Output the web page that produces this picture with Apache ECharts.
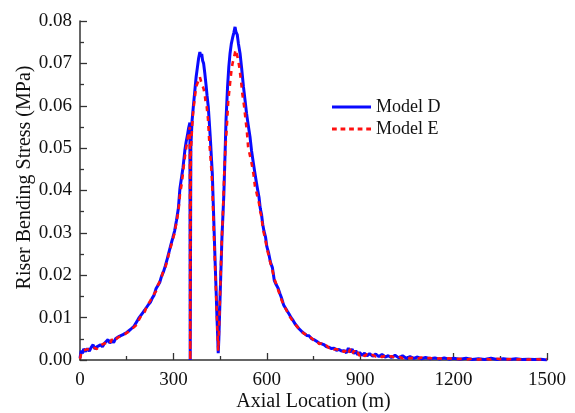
<!DOCTYPE html>
<html>
<head>
<meta charset="utf-8">
<script src="https://cdn.jsdelivr.net/npm/echarts@6/dist/echarts.min.js"></script>
<style>
html,body{margin:0;padding:0;background:#fff;}
#c{width:575px;height:413px;}
</style>
</head>
<body>
<div id="c"></div>
<script>
// Axial location (m) and bending stress (MPa)
var xD = [0,4,8,12,18,24,30,36,42,48,54,60,66,72,78,84,90,96,102,108,114,120,126,132,138,144,150,156,162,168,174,180,186,190,196,202,208,214,220,226,232,238,244,250,256,262,268,274,280,286,292,298,304,310,316,321,326,331,337,341,345,349,353,354,356,360,364,369,373,377,381,385,388,391,394,397,401,405,408,412,415,419,422,425,428,431,434,437,440,442,444,446,448,450,453,456,459,462,466,469,474,478,482,486,490,494,498,501,505,509,514,519,525,530,535,540,546,551,557,562,567,571,575,579,583,587,591,596,600,606,612,618,624,630,636,642,648,654,660,666,672,678,684,690,696,702,708,714,720,728,736,744,752,760,768,776,784,792,800,808,816,824,832,840,848,856,862,868,874,880,886,892,898,906,914,922,930,940,950,960,970,980,990,1000,1012,1024,1036,1048,1060,1072,1084,1096,1110,1125,1140,1155,1170,1185,1200,1220,1240,1260,1280,1300,1320,1340,1360,1380,1400,1420,1440,1460,1480,1500];
var yD = [0.0005,0.0022,0.0016,0.0026,0.0020,0.0027,0.0021,0.0030,0.0036,0.0026,0.0031,0.0027,0.0036,0.0031,0.0039,0.0035,0.0048,0.0040,0.0046,0.0041,0.0050,0.0048,0.0056,0.0053,0.0060,0.0057,0.0065,0.0064,0.0072,0.0070,0.0080,0.0078,0.0095,0.0100,0.0098,0.0112,0.0118,0.0122,0.0131,0.0136,0.0146,0.0153,0.0168,0.0172,0.0183,0.0198,0.0208,0.0222,0.0238,0.0255,0.0272,0.0288,0.0305,0.0330,0.0358,0.0405,0.0430,0.0455,0.0496,0.0515,0.0530,0.0548,0.0560,0.0000,0.0505,0.0565,0.0598,0.0637,0.0668,0.0690,0.0712,0.0727,0.0716,0.0722,0.0706,0.0700,0.0676,0.0648,0.0625,0.0598,0.0565,0.0519,0.0478,0.0440,0.0370,0.0300,0.0232,0.0168,0.0100,0.0060,0.0016,0.0050,0.0100,0.0150,0.0220,0.0290,0.0340,0.0390,0.0488,0.0566,0.0645,0.0692,0.0724,0.0746,0.0760,0.0772,0.0786,0.0774,0.0768,0.0746,0.0724,0.0690,0.0645,0.0614,0.0582,0.0556,0.0527,0.0494,0.0464,0.0440,0.0417,0.0400,0.0384,0.0358,0.0344,0.0320,0.0304,0.0290,0.0268,0.0252,0.0230,0.0218,0.0188,0.0178,0.0170,0.0157,0.0145,0.0130,0.0128,0.0115,0.0108,0.0100,0.0094,0.0086,0.0084,0.0075,0.0074,0.0066,0.0064,0.0058,0.0057,0.0050,0.0048,0.0044,0.0040,0.0038,0.0036,0.0031,0.0030,0.0027,0.0028,0.0023,0.0025,0.0021,0.0022,0.0017,0.0028,0.0018,0.0026,0.0015,0.0022,0.0012,0.0018,0.0011,0.0016,0.0010,0.0015,0.0009,0.0014,0.0008,0.0013,0.0007,0.0010,0.0006,0.0011,0.0005,0.0010,0.0004,0.0008,0.0004,0.0007,0.0003,0.0006,0.0003,0.0005,0.0002,0.0005,0.0002,0.0004,0.0002,0.0004,0.0001,0.0003,0.0001,0.0004,0.0001,0.0003,0.0001,0.0003,0.0001,0.0002,0.0001,0.0002,0.0000];
var xE = [0,4,8,12,18,24,30,36,42,48,54,60,66,72,78,84,90,96,102,108,114,120,126,132,138,144,150,156,162,168,174,180,186,190,196,202,208,214,220,226,232,238,244,250,256,262,268,274,280,286,292,298,304,310,316,321,327,332,337,341,345,349,353,354,356,360,364,369,373,377,381,385,389,393,397,401,404,407,411,415,419,423,426,429,432,435,438,441,443,444,446,448,450,453,456,459,463,467,471,476,482,486,490,494,497,500,503,507,512,517,522,527,532,536,540,546,551,557,562,567,571,575,579,583,587,591,596,600,606,612,618,624,630,636,642,648,654,660,666,672,678,684,690,696,702,708,714,720,728,736,744,752,760,768,776,784,792,800,808,816,824,832,840,848,856,862,868,874,880,886,892,898,906,914,922,930,940,950,960,970,980,990,1000,1012,1024,1036,1048,1060,1072,1084,1096,1110,1125,1140,1155,1170,1185,1200,1220,1240,1260,1280,1300,1320,1340,1360,1380,1400,1420,1440,1460,1480,1500];
var yE = [0.0003,0.0016,0.0022,0.0018,0.0024,0.0020,0.0026,0.0024,0.0030,0.0033,0.0026,0.0032,0.0029,0.0037,0.0033,0.0040,0.0044,0.0038,0.0049,0.0044,0.0047,0.0052,0.0050,0.0057,0.0055,0.0061,0.0060,0.0067,0.0066,0.0074,0.0076,0.0082,0.0090,0.0096,0.0104,0.0108,0.0114,0.0126,0.0128,0.0140,0.0142,0.0156,0.0162,0.0176,0.0180,0.0195,0.0212,0.0218,0.0234,0.0252,0.0268,0.0284,0.0300,0.0326,0.0350,0.0390,0.0417,0.0450,0.0480,0.0500,0.0518,0.0535,0.0550,0.0000,0.0490,0.0550,0.0590,0.0620,0.0645,0.0648,0.0660,0.0668,0.0657,0.0655,0.0640,0.0625,0.0605,0.0598,0.0570,0.0519,0.0480,0.0440,0.0385,0.0320,0.0260,0.0200,0.0140,0.0080,0.0040,0.0022,0.0060,0.0110,0.0160,0.0230,0.0295,0.0345,0.0433,0.0500,0.0543,0.0610,0.0653,0.0680,0.0700,0.0712,0.0722,0.0732,0.0724,0.0712,0.0690,0.0660,0.0625,0.0600,0.0566,0.0540,0.0503,0.0482,0.0465,0.0440,0.0410,0.0395,0.0382,0.0370,0.0350,0.0338,0.0312,0.0298,0.0282,0.0264,0.0246,0.0228,0.0212,0.0192,0.0180,0.0166,0.0154,0.0140,0.0132,0.0122,0.0118,0.0104,0.0098,0.0090,0.0088,0.0080,0.0077,0.0070,0.0068,0.0062,0.0060,0.0053,0.0052,0.0045,0.0046,0.0038,0.0039,0.0033,0.0034,0.0028,0.0030,0.0025,0.0026,0.0021,0.0024,0.0019,0.0024,0.0016,0.0026,0.0014,0.0022,0.0013,0.0018,0.0010,0.0016,0.0009,0.0014,0.0010,0.0012,0.0008,0.0011,0.0007,0.0010,0.0006,0.0009,0.0005,0.0008,0.0004,0.0007,0.0004,0.0006,0.0003,0.0006,0.0003,0.0005,0.0002,0.0004,0.0002,0.0004,0.0002,0.0003,0.0001,0.0003,0.0001,0.0003,0.0001,0.0003,0.0001,0.0002,0.0001,0.0002,0.0001,0.0002,0.0001,0.0002,0.0001,0.0000];
var seriesNames = ['Model D','Model E'];
var xTicks = [0,300,600,900,1200,1500];

function pairs(xs, ys){ return xs.map(function(x,i){ return [x, ys[i]]; }); }

var FONT = 'Liberation Serif';
var chart = echarts.init(document.getElementById('c'), null, {renderer:'canvas'});
chart.setOption({
  animation:false,
  backgroundColor:'#ffffff',
  grid:{left:80,right:28,top:21,bottom:53,containLabel:false,outerBoundsMode:'none'},
  legend:{
    orient:'vertical', left:327, top:93, itemWidth:39, itemHeight:14, itemGap:4,
    textStyle:{fontFamily:FONT,fontSize:18,color:'#111'},
    data:[
      {name:seriesNames[0],icon:'path://M0,0L41,0L41,3L0,3Z'},
      {name:seriesNames[1],icon:'path://M0,0h5v3h-5zM9,0h5v3h-5zM18,0h5v3h-5zM27,0h5v3h-5zM36,0h5v3h-5z'}
    ]
  },
  xAxis:{
    type:'value', min:xTicks[0], max:xTicks[xTicks.length-1], interval:300,
    name:'Axial Location (m)', nameLocation:'middle', nameGap:32, nameMoveOverlap:false,
    nameTextStyle:{fontFamily:FONT,fontSize:20,color:'#111'},
    axisLine:{show:true,lineStyle:{color:'#333',width:1.5}},
    axisTick:{show:true,inside:true,length:7,lineStyle:{color:'#333',width:1.3}},
    minorTick:{show:true,splitNumber:2,length:4,lineStyle:{color:'#333',width:1.3}},
    splitLine:{show:false},
    axisLabel:{fontFamily:FONT,fontSize:19,color:'#111',margin:11,formatter:function(v){return String(v);}}
  },
  yAxis:{
    type:'value', min:0, max:0.08, interval:0.01,
    name:'Riser Bending Stress (MPa)', nameLocation:'middle', nameGap:45, nameMoveOverlap:false,
    nameTextStyle:{fontFamily:FONT,fontSize:20,color:'#111',padding:[0,0,0,26]},
    axisLine:{show:true,lineStyle:{color:'#333',width:1.5}},
    axisTick:{show:true,inside:true,length:7,lineStyle:{color:'#333',width:1.3}},
    minorTick:{show:true,splitNumber:2,length:4,lineStyle:{color:'#333',width:1.3}},
    splitLine:{show:false},
    axisLabel:{fontFamily:FONT,fontSize:19,color:'#111',margin:8,formatter:function(v){return v.toFixed(2);}}
  },
  series:[
    {name:seriesNames[0],type:'line',data:pairs(xD,yD),showSymbol:false,symbol:'none',
     lineStyle:{color:'#0a0aff',width:3},itemStyle:{color:'#0a0aff'},z:2},
    {name:seriesNames[1],type:'line',data:pairs(xE,yE),showSymbol:false,symbol:'none',
     lineStyle:{color:'#ff1010',width:2.6,type:[5,5]},itemStyle:{color:'#ff1010'},z:3}
  ]
});
</script>
</body>
</html>
